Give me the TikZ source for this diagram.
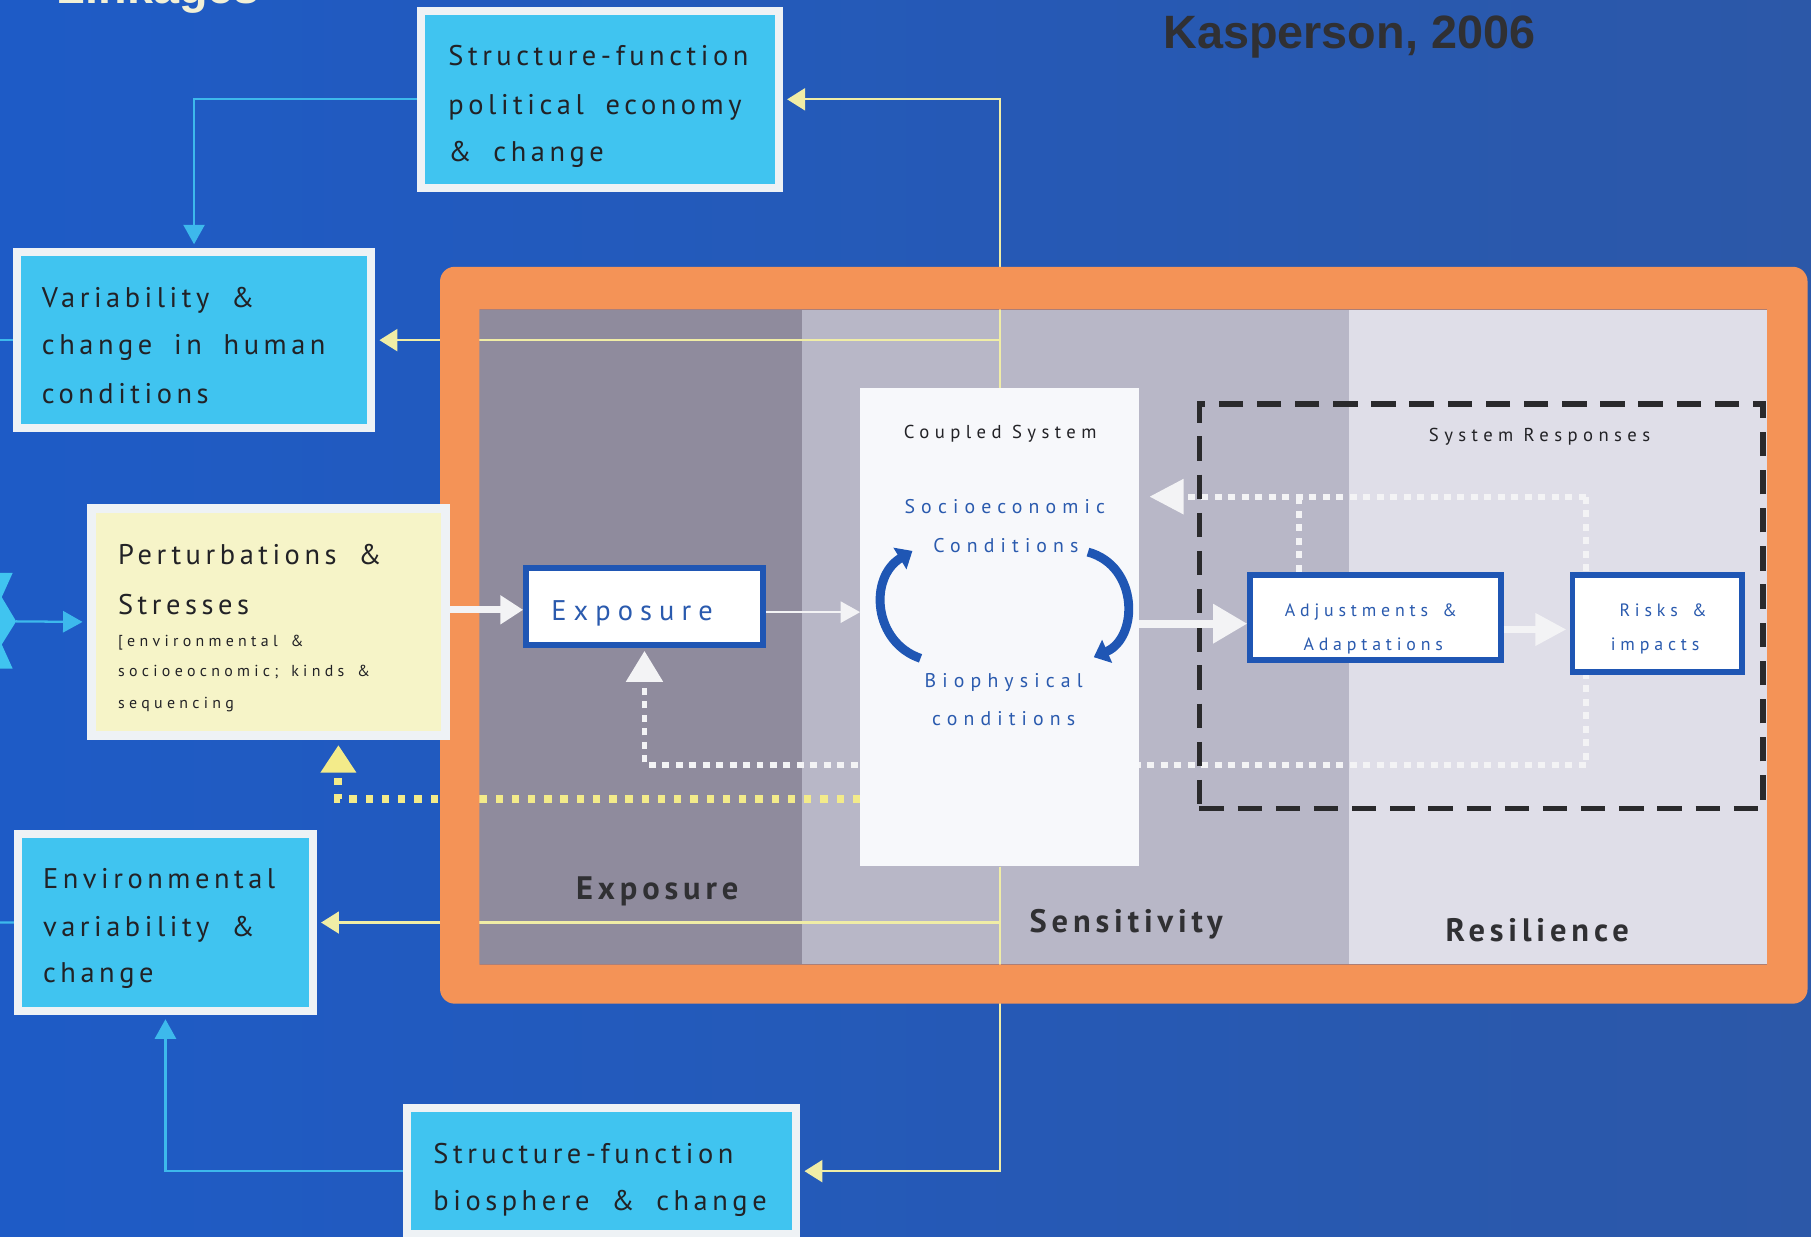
\documentclass[tikz,border=0pt]{standalone}
\usepackage{fontspec}
\setmainfont{PT Sans}
\usetikzlibrary{arrows.meta,calc,fit}
\pgfdeclarelayer{bglayer}
\pgfdeclarelayer{lnlayer}
\pgfdeclarelayer{ringlayer}
\pgfsetlayers{bglayer,lnlayer,ringlayer,main}

\newfontfamily\bxf[LetterSpace=16,WordSpace=1.8]{PT Sans}
\newfontfamily\smf[LetterSpace=27,WordSpace=1.5]{PT Sans}
\newfontfamily\csf[LetterSpace=29]{PT Sans}
\newfontfamily\blf[LetterSpace=31]{PT Sans}
\newfontfamily\exf[LetterSpace=25]{PT Sans}
\newfontfamily\adf[LetterSpace=27,WordSpace=1.5]{PT Sans}
\newfontfamily\lbf[LetterSpace=15]{PT Sans}
\newfontfamily\ttlf{Liberation Sans}

\newcommand\fBox{\bxf\fontsize{17.5pt}{20pt}\selectfont}
\newcommand\fSmall{\smf\fontsize{9.8pt}{11pt}\selectfont}
\newcommand\fCpl{\csf\fontsize{11.5pt}{13pt}\selectfont}
\newcommand\fBlue{\blf\fontsize{12.2pt}{14pt}\selectfont}
\newcommand\fExpo{\exf\fontsize{17.5pt}{20pt}\selectfont}
\newcommand\fAdj{\adf\fontsize{11pt}{13pt}\selectfont}
\newcommand\fLab{\lbf\bfseries\fontsize{20pt}{22pt}\selectfont}
\newcommand\fTtl{\ttlf\bfseries\fontsize{28.8pt}{32pt}\selectfont}

\definecolor{bgL}{HTML}{1E5BC6}
\definecolor{bgR}{HTML}{2C58A8}
\definecolor{cyanbox}{HTML}{40C4F0}
\definecolor{wbord}{HTML}{EEF2F5}
\definecolor{pertfill}{HTML}{F6F4C8}
\definecolor{orangec}{HTML}{F49357}
\definecolor{colexp}{HTML}{8F8B9D}
\definecolor{colsen}{HTML}{B8B7C7}
\definecolor{colres}{HTML}{DFDEE8}
\definecolor{cplw}{HTML}{F7F8FB}
\definecolor{iblue}{HTML}{1F56B4}
\definecolor{tblue}{HTML}{2A5AAE}
\definecolor{tdark}{HTML}{222226}
\definecolor{ldark}{HTML}{303033}
\definecolor{yline}{HTML}{F0EDA6}
\definecolor{ydotc}{HTML}{F3EB8A}
\definecolor{wline}{HTML}{F3F3F5}
\definecolor{cyanln}{HTML}{3DB9EC}
\definecolor{cream}{HTML}{F2F0D6}
\definecolor{dashc}{HTML}{2A2A2C}

\tikzset{
 cbox/.style={draw=wbord, line width=5pt, fill=cyanbox, inner sep=0pt},
 pbox/.style={draw=wbord, line width=5.7pt, fill=pertfill, inner sep=0pt},
 ibox/.style={draw=iblue, line width=3.6pt, fill=white, inner sep=0pt},
 cplbox/.style={fill=cplw, inner sep=0pt},
 dbox/.style={draw=dashc, line width=3.6pt, dash pattern=on 15pt off 8.5pt, inner sep=0pt},
 btxt/.style={anchor=base west, inner sep=0pt, text=tdark, font=\fBox},
 stxt/.style={anchor=base west, inner sep=0pt, text=tdark, font=\fSmall},
 ctxt/.style={anchor=base, inner sep=0pt, text=tdark, font=\fCpl},
 bltxt/.style={anchor=base, inner sep=0pt, text=tblue, font=\fBlue},
 etxt/.style={anchor=base west, inner sep=0pt, text=tblue, font=\fExpo},
 atxt/.style={anchor=base, inner sep=0pt, text=tblue, font=\fAdj},
 ltxt/.style={anchor=base, inner sep=0pt, text=ldark, font=\fLab},
 ythin/.style={draw=yline, line width=1.3pt, -{Triangle[length=11pt,width=13.5pt]}, shorten >=2.5pt},
 cyanarr/.style={draw=cyanln, line width=1.4pt, -{Triangle[length=12pt,width=13pt]}, shorten >=2.5pt},
 cyanplain/.style={draw=cyanln, line width=1.4pt},
 wdot/.style={draw=wline, line width=3.6pt, dash pattern=on 4.3pt off 4pt},
 ydotst/.style={draw=ydotc, line width=5pt, dash pattern=on 4.5pt off 5.5pt},
 wthick/.style={draw=wline, line width=4.3pt, -{Triangle[length=14pt,width=17pt]}},
 wthin/.style={draw=wline, line width=1.4pt, -{Triangle[length=12pt,width=13pt]}},
 wbig/.style={draw=wline, line width=5pt, -{Triangle[length=21pt,width=23pt]}},
 wmid/.style={draw=wline, line width=4.3pt, -{Triangle[length=19pt,width=19pt]}, shorten >=2pt},
 arcst/.style={draw=iblue, line width=5.5pt, -{Triangle[length=9pt,width=15pt]}}
}

\begin{document}
\begin{tikzpicture}[x=0.025cm, y=-0.025cm]
\useasboundingbox (0,0) rectangle (1568,1071);

\begin{pgfonlayer}{bglayer}
 \shade[left color=bgL, right color=bgR] (0,0) rectangle (1568,1071);
 \fill[colexp] (415,268) rectangle (694,835);
 \fill[colsen] (694,268) rectangle (1168,835);
 \fill[colres] (1168,268) rectangle (1530,835);
\end{pgfonlayer}

% titles
\node[anchor=base west, inner sep=0pt, text=cream, font=\fTtl] (lnk) at (49,3) {Linkages};
\node[anchor=base west, inner sep=0pt, text=ldark, font=\fTtl] (ttl) at (1007,42) {Kasperson, 2006};

% boxes
\node[cbox, fit={(364.5,9.5) (674.5,162.5)}] (sfpol) {};
\node[cbox, fit={(14.5,218.5) (321.5,370.5)}] (varbox) {};
\node[pbox, fit={(79,440) (386,637)}] (pert) {};
\node[cbox, fit={(15.5,722) (271,875.5)}] (envbox) {};
\node[cbox, fit={(352.5,959.5) (689.5,1068.5)}] (sfbio) {};
\node[cplbox, fit={(745,336) (986,750)}] (cpl) {};
\node[ibox, fit={(455.5,491.5) (660.5,558.5)}] (expo) {};
\node[ibox, fit={(1082.5,497.5) (1299.5,571.5)}] (adj) {};
\node[ibox, fit={(1361.5,497.5) (1508.5,581.5)}] (risk) {};
\node[dbox, fit={(1038.5,349.5) (1526.5,700)}] (resp) {};

% box texts
\node[btxt] (sfpol1) at (388,57) {Structure-function};
\node[btxt] (sfpol2) at (388,99) {political economy};
\node[btxt] (sfpol3) at (388,140) {\& change};
\node[btxt] (var1) at (36,266) {Variability \&};
\node[btxt] (var2) at (36,307) {change in human};
\node[btxt] (var3) at (36,349) {conditions};
\node[btxt] (env1) at (37,769) {Environmental};
\node[btxt] (env2) at (37,811) {variability \&};
\node[btxt] (env3) at (37,851) {change};
\node[btxt] (bio1) at (375,1007) {Structure-function};
\node[btxt] (bio2) at (375,1048) {biosphere \& change};
\node[btxt] (pert1) at (102,489) {Perturbations \&};
\node[btxt] (pert2) at (102,532) {Stresses};
\node[stxt] (pert3) at (102,560) {[environmental \&};
\node[stxt] (pert4) at (102,586) {socioeocnomic; kinds \&};
\node[stxt] (pert5) at (102,613) {sequencing};
\node[ctxt] (cpl1) at (866,380) {Coupled System};
\node[bltxt] (cpl2) at (870,445) {Socioeconomic};
\node[bltxt] (cpl3) at (871,478) {Conditions};
\node[bltxt] (cpl4) at (869,595) {Biophysical};
\node[bltxt] (cpl5) at (869,628) {conditions};
\node[ctxt] (resp1) at (1333,382) {System Responses};
\node[etxt] (expo1) at (477,537) {Exposure};
\node[atxt] (adj1) at (1187,534) {Adjustments \&};
\node[atxt] (adj2) at (1189,563) {Adaptations};
\node[atxt] (risk1) at (1440,534) {Risks \&};
\node[atxt] (risk2) at (1433,563) {impacts};
\node[ltxt] (labE) at (569,779) {Exposure};
\node[ltxt] (labS) at (975,807) {Sensitivity};
\node[ltxt] (labR) at (1331,815) {Resilience};

% circular arrows in the coupled system
\coordinate (aL1) at (797,570); \coordinate (aL2) at (790,477);
\draw[arcst] (aL1) .. controls (756,556) and (752,500) .. (aL2);
\coordinate (aR1) at (942,478); \coordinate (aR2) at (947,569);
\draw[arcst] (aR1) .. controls (986,490) and (986,552) .. (aR2);

% main white arrows
\draw[wthick] (pert.east |- 0,528) -- (expo.west |- 0,528);
\draw[wthin] (expo.east |- 0,530) -- (cpl.west |- 0,530);
\draw[wbig] (cpl.east |- 0,540) -- (adj.west |- 0,540);
\draw[wmid] (adj.east |- 0,545) -- (risk.west |- 0,545);

% chevron at left edge
\fill[cyanbox] (0,496) -- (11,496) -- (1.5,517) -- (14,538) -- (1.5,558) -- (11,579) -- (0,579) -- cycle;
\coordinate (chev) at (14,538);
\coordinate (lsv) at (0,294.5);
\coordinate (lse) at (0,798.75);

\begin{pgfonlayer}{lnlayer}
 % cyan connectors
 \draw[cyanarr] (sfpol.west) -| (varbox.north);
 \draw[cyanarr] (sfbio.west) -| (envbox.south);
 \draw[cyanarr] (chev) -- (pert.west);
 \draw[cyanplain] (lsv) -- (varbox.west);
 \draw[cyanplain] (lse) -- (envbox.west);
 % thin yellow feedback lines
 \draw[ythin] (cpl.north) |- (sfpol.east);
 \draw[ythin] (cpl.north) |- (varbox.east);
 \draw[ythin] (cpl.south) |- (envbox.east);
 \draw[ythin] (cpl.south) |- (sfbio.east);
 % white dotted feedback
 \coordinate (fb1) at (1125,430);
 \coordinate (fb2) at (1373,430);
 \coordinate (fb3) at (1373,662);
 \draw[wdot] (adj.north -| fb1) -- (fb1);
 \draw[wdot, -{Triangle[length=21pt,width=21pt]}, shorten >=6.4pt] (fb2) -- (cpl.east |- fb2);
 \draw[wdot] (fb2) -- (fb3);
 \draw[wdot, -{Triangle[length=19pt,width=22pt]}, shorten >=1.8pt] (fb3) -| (expo.south);
 % yellow dotted feedback
 \coordinate (yd1) at (cpl.west |- 0,692);
 \coordinate (yd2) at (pert.south -| 293,0);
 \draw[ydotst, -{Triangle[length=17pt,width=21pt]}, shorten >=2.9pt] (yd1) -| (yd2);
\end{pgfonlayer}

\begin{pgfonlayer}{ringlayer}
 \fill[orangec, even odd rule, rounded corners=9pt] (381,231) rectangle (1565,869)
   [sharp corners] (415,268) rectangle (1530,835);
\end{pgfonlayer}
\end{tikzpicture}
\end{document}
